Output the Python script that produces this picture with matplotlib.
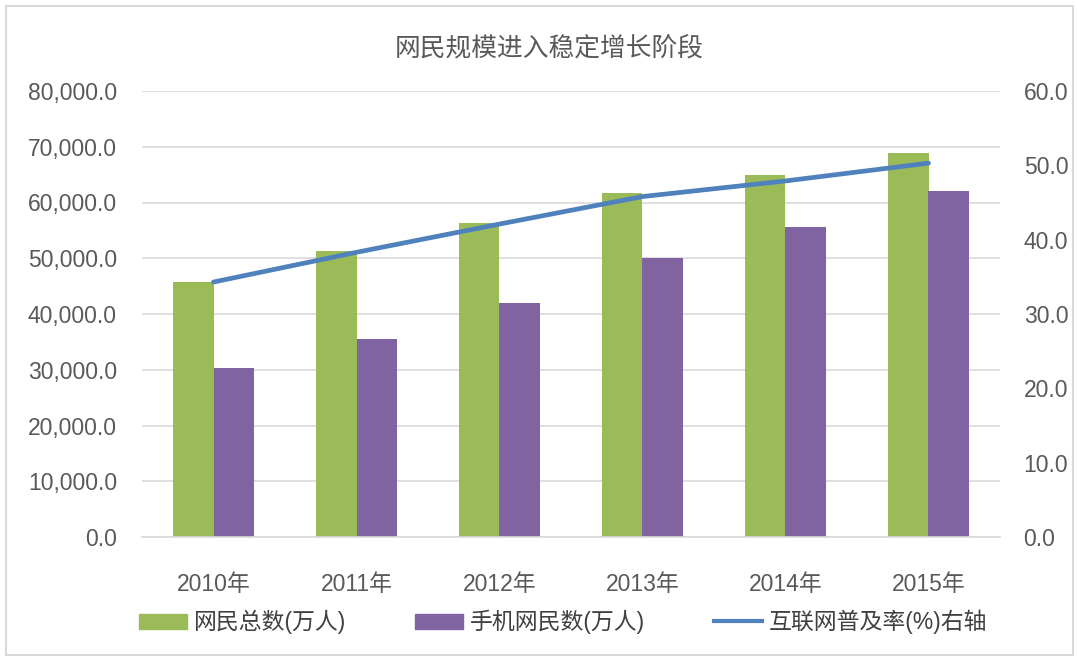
import matplotlib
matplotlib.use("Agg")
import matplotlib.pyplot as plt
from matplotlib.patches import Rectangle, Patch
from matplotlib.lines import Line2D
import numpy as np

plt.rcParams['font.family'] = ['Liberation Sans', 'Noto Sans CJK SC', 'DejaVu Sans']

years = ['2010年', '2011年', '2012年', '2013年', '2014年', '2015年']
netizens = [45730, 51310, 56400, 61758, 64875, 68826]
mobile = [30274, 35558, 41997, 50006, 55678, 61981]
rate = [34.3, 38.3, 42.1, 45.8, 47.9, 50.3]

title = '网民规模进入稳定增长阶段'
labels = ['网民总数(万人)', '手机网民数(万人)', '互联网普及率(%)右轴']

c_green = '#9BBB59'
c_purple = '#8064A2'
c_blue = '#4F81BD'
tc = '#595959'

W, H = 1077, 660
fig = plt.figure(figsize=(W/100, H/100), dpi=100)
fig.patches.append(Rectangle((6/W, 5/H), (1073-6)/W, (654-5)/H, transform=fig.transFigure,
                             fill=False, ec='#D9D9D9', lw=1.5))

ax = fig.add_axes([142/W, 1-537/H, (1000-142)/W, (537-91)/H])
x = np.arange(len(years))
w = 0.28
ax.bar(x - w/2, netizens, w, color=c_green, zorder=2)
ax.bar(x + w/2, mobile, w, color=c_purple, zorder=2)
ax.set_xlim(-0.5, len(years)-0.5)
ax.set_ylim(0, 80000)
yt = np.arange(0, 80001, 10000)
ax.set_yticks(yt)
ax.set_yticklabels([f'{v:,.1f}' for v in yt])
ax.yaxis.grid(True, color='#D9D9D9', lw=1.2, zorder=0)
ax.set_axisbelow(True)
for s in ['top', 'right', 'left']:
    ax.spines[s].set_visible(False)
ax.spines['bottom'].set_color('#D9D9D9')
ax.spines['bottom'].set_linewidth(1.2)
ax.set_xticks(x)
ax.set_xticklabels(years)
ax.tick_params(axis='both', length=0, colors=tc, labelsize=16.5)
ax.tick_params(axis='x', pad=26)
ax.tick_params(axis='y', pad=18)

ax2 = ax.twinx()
ax2.plot(x, rate, color=c_blue, lw=3.4, solid_capstyle='round', zorder=3)
ax2.set_ylim(0, 60)
yt2 = np.arange(0, 61, 10)
ax2.set_yticks(yt2)
ax2.set_yticklabels([f'{v:.1f}' for v in yt2])
for s in ['top', 'right', 'left', 'bottom']:
    ax2.spines[s].set_visible(False)
ax2.tick_params(axis='y', length=0, colors=tc, labelsize=16.5, pad=17)

fig.text(549/W, 1-48/H, title, ha='center', va='center', fontsize=18.5, color=tc)

handles = [Patch(color=c_green), Patch(color=c_purple), Line2D([0], [0], color=c_blue, lw=3)]
fig.legend(handles, labels, loc='center', bbox_to_anchor=(563/W, 1-622/H), ncol=3, frameon=False,
           fontsize=16.5, labelcolor='#404040', handlelength=2.1, handleheight=0.65,
           columnspacing=3.0, handletextpad=0.3, borderaxespad=0, borderpad=0)

fig.savefig('out.png', dpi=100)
